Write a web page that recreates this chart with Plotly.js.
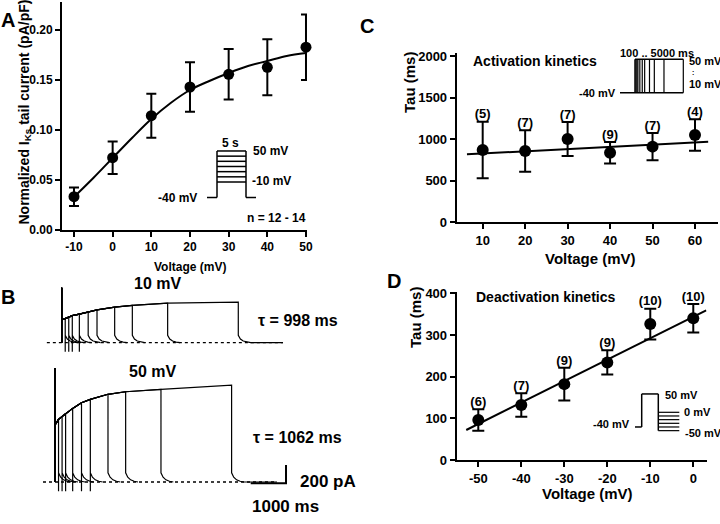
<!DOCTYPE html>
<html>
<head>
<meta charset="utf-8">
<script src="https://cdn.plot.ly/plotly-3.0.1.min.js"></script>
<style>body{margin:0;background:#fff}#plot{width:720px;height:524px}</style>
</head>
<body>
<div id="plot"></div>
<script>
// Panel A: normalized IKs tail current vs step voltage
var voltA = [-10, 0, 10, 20, 30, 40, 50];
var currA = [0.0333, 0.0723, 0.1143, 0.143, 0.1557, 0.1627, 0.1828];
var errA = [0.0092, 0.0163, 0.022, 0.0247, 0.0253, 0.028, 0.0328];
var fitVoltA = [-10, -5, 0, 5, 10, 15, 20, 25, 30, 35, 40, 45, 50];
var fitCurrA = [0.033, 0.052, 0.072, 0.092, 0.111, 0.127, 0.140, 0.149, 0.157, 0.164, 0.169, 0.174, 0.177];
var stepsA = [-10, 0, 10, 20, 30, 40, 50];
var holdA = -40;

// Panel B: current traces, step durations in ms, currents in pA
var pulseDur = [100, 200, 300, 500, 750, 1000, 1500, 2000, 3000, 5000];
var ik10 = [263, 280, 295, 312, 334, 358, 388, 407, 432, 444];
var ik50 = [685, 714, 751, 805, 867, 904, 959, 987, 1013, 1060];
var onset10 = 251, onset50 = 623;
var spike10 = 601, spike50 = 1246;
var dip10 = [-100, -100, -100, -100, null, null, null, null, null, null];
var dip50 = [-100, -100, -100, -100, -100, -100, null, null, null, null];
var tailT = [0, 60, 140, 240, 350];
var tail10 = [80, 40, 18, 6, 0];
var tail50 = [100, 52, 24, 8, 0];
var span10 = [-420, 6266];
var span50 = [-340, 6285];
var scaleMs = 1000, scalePa = 200;

// Panel C: activation time constants
var voltC = [10, 20, 30, 40, 50, 60];
var tauC = [870, 858, 1002, 837, 910, 1050];
var errC = [340, 250, 205, 130, 165, 190];
var nC = [5, 7, 7, 9, 7, 4];
var fitVoltC = [6.3, 63.1];
var fitTauC = [818, 970];

// Panel D: deactivation time constants
var voltD = [-50, -40, -30, -20, -10, 0];
var tauD = [96, 132, 182, 234, 326, 340];
var errD = [26, 28, 39, 29, 37, 34];
var nD = [6, 7, 9, 9, 10, 10];
var fitVoltD = [-52.8, 3];
var fitTauD = [72, 359];
var stepsD = [0, -10, -20, -30, -40, -50];

var FONT = 'Liberation Sans, Arial, sans-serif';
var NARROW = 'Liberation Sans Narrow, Liberation Sans, Arial, sans-serif';

function px(x) { return x / 720; }
function py(y) { return 1 - y / 524; }

function txt(s, x, y, size, anchor, angle, fam) {
    return {
        text: '<b>' + s + '</b>', xref: 'paper', yref: 'paper', x: px(x), y: py(y),
        xanchor: anchor || 'center', yanchor: 'middle', showarrow: false,
        textangle: angle || 0, font: {family: fam || FONT, size: size, color: 'black'}
    };
}

function seg(x0, y0, x1, y1, w) {
    return {type: 'line', xref: 'paper', yref: 'paper', x0: px(x0), y0: py(y0), x1: px(x1), y1: py(y1),
        line: {color: 'black', width: w || 1.5}};
}

function ax(extra) {
    var base = {
        showline: true, linecolor: 'black', linewidth: 2, ticks: 'outside', ticklen: 5,
        tickwidth: 2, tickcolor: 'black', showgrid: false, zeroline: false, fixedrange: true,
        tickfont: {family: FONT, size: 13, color: 'black', weight: 'bold'}
    };
    return Object.assign(base, extra);
}

function points(x, y, err, xa, ya, size, cap) {
    return {
        x: x, y: y, xaxis: xa, yaxis: ya, mode: 'markers', type: 'scatter', cliponaxis: false,
        marker: {color: 'black', size: size},
        error_y: {type: 'data', array: err, visible: true, color: 'black', thickness: 2, width: cap},
        hoverinfo: 'skip'
    };
}

function fitLine(x, y, xa, ya, shape) {
    return {x: x, y: y, xaxis: xa, yaxis: ya, mode: 'lines', type: 'scatter', cliponaxis: false,
        line: {color: 'black', width: 2, shape: shape || 'linear'}, hoverinfo: 'skip'};
}

function nLabels(x, y, err, n, xa, ya) {
    return {
        x: x, y: y.map(function (v, i) { return v + err[i]; }), xaxis: xa, yaxis: ya,
        mode: 'text', type: 'scatter', text: n.map(function (k) { return '<b>(' + k + ')</b>'; }),
        textposition: 'top center', textfont: {family: FONT, size: 13, color: 'black'},
        cliponaxis: false, hoverinfo: 'skip'
    };
}

function pulseTraces(ik, onset, spike, dip, tail, span, xa, ya) {
    var out = [];
    out.push({x: span, y: [0, 0], xaxis: xa, yaxis: ya, mode: 'lines',
        line: {color: 'black', width: 1.3, dash: 'dot'}, hoverinfo: 'skip'});
    for (var k = 0; k < pulseDur.length; k++) {
        var d = pulseDur[k];
        var xs = [0, 0, 0], ys = [0, spike, onset];
        for (var j = 0; j <= k; j++) { xs.push(pulseDur[j]); ys.push(ik[j]); }
        if (dip[k] !== null) { xs.push(d); ys.push(dip[k]); }
        for (var t = 0; t < tailT.length; t++) { xs.push(d + tailT[t]); ys.push(tail[t]); }
        if (k === pulseDur.length - 1) { xs.push(span[1]); ys.push(0); }
        out.push({x: xs, y: ys, xaxis: xa, yaxis: ya, mode: 'lines',
            line: {color: 'black', width: 1.2}, hoverinfo: 'skip'});
    }
    return out;
}

var data = [
    fitLine(fitVoltA, fitCurrA, 'x', 'y', 'spline'),
    points(voltA, currA, errA, 'x', 'y', 11, 5),
    fitLine(fitVoltC, fitTauC, 'x2', 'y2'),
    points(voltC, tauC, errC, 'x2', 'y2', 12, 6),
    nLabels(voltC, tauC, errC, nC, 'x2', 'y2'),
    fitLine(fitVoltD, fitTauD, 'x5', 'y5'),
    points(voltD, tauD, errD, 'x5', 'y5', 12, 6),
    nLabels(voltD, tauD, errD, nD, 'x5', 'y5')
];
data = data.concat(pulseTraces(ik10, onset10, spike10, dip10, tail10, span10, 'x3', 'y3'));
data = data.concat(pulseTraces(ik50, onset50, spike50, dip50, tail50, span50, 'x4', 'y4'));
// scale bar
data.push({x: [6540 - scaleMs, 6540, 6540], y: [-14, -14, -14 + scalePa], xaxis: 'x4', yaxis: 'y4',
    mode: 'lines', line: {color: 'black', width: 2}, hoverinfo: 'skip'});

// stimulation protocol insets
var shapes = [];
function vA(v) { return 182 - (v + 10) * 0.517; }
stepsA.forEach(function (v) { shapes.push(seg(217, vA(v), 246, vA(v))); });
shapes.push(seg(207, vA(holdA), 217, vA(holdA)));
shapes.push(seg(217, vA(holdA), 217, vA(50)));
shapes.push(seg(246, vA(holdA), 246, vA(50)));
shapes.push(seg(246, vA(holdA), 256, vA(holdA)));

shapes.push(seg(620, 92.7, 683.3, 92.7));
shapes.push(seg(635, 59.3, 683.3, 59.3));
shapes.push(seg(635, 59.3, 635, 92.7));
pulseDur.forEach(function (d) {
    var x = 635 + d * 0.00966;
    shapes.push(seg(x, 59.3, x, 92.7, 1.2));
});

function vD(v) { return 412.3 - v * 0.367; }
shapes.push(seg(635, vD(-40), 641.7, vD(-40)));
shapes.push(seg(641.7, vD(-40), 641.7, vD(50)));
shapes.push(seg(641.7, vD(50), 658.3, vD(50)));
shapes.push(seg(658.3, vD(50), 658.3, vD(-50)));
stepsD.forEach(function (v) { shapes.push(seg(658.3, vD(v), 679.3, vD(v), 1.2)); });

var annotations = [
    txt('A', 8, 20, 20), txt('B', 8, 297, 20), txt('C', 367, 26, 20), txt('D', 394, 281, 20),
    txt('Normalized I<sub>Ks</sub> tail current (pA/pF)', 24.5, 112, 14, 'center', -90),
    txt('Voltage (mV)', 190, 267, 12, 'center', 0, NARROW),
    txt('5 s', 230.5, 143, 12, 'center', 0, NARROW),
    txt('50 mV', 250.5, 151, 12, 'left', 0, NARROW),
    txt('-10 mV', 250, 181, 12, 'left', 0, NARROW),
    txt('-40 mV', 199, 197.7, 12, 'right', 0, NARROW),
    txt('n = 12 - 14', 308, 218.3, 12, 'right', 0, NARROW),
    txt('10 mV', 157, 283.3, 16), txt('50 mV', 152.5, 371.7, 16),
    txt('\u03c4 = 998 ms', 298, 320, 16), txt('\u03c4 = 1062 ms', 297, 437.7, 16),
    txt('200 pA', 298, 481.7, 17, 'left'), txt('1000 ms', 285.5, 506.7, 17),
    txt('Activation kinetics', 471, 60.7, 14, 'left'),
    txt('100 .. 5000 ms', 618, 53, 11, 'left'),
    txt('50 mV', 687, 61.5, 11, 'left'), txt(':', 690, 72.5, 7, 'left'), txt('10 mV', 687, 83.5, 11, 'left'),
    txt('-40 mV', 618, 92.7, 11, 'right'),
    txt('Tau (ms)', 410, 83, 15, 'center', -90),
    txt('Voltage (mV)', 590, 258, 15),
    txt('Deactivation kinetics', 474, 297.3, 14, 'left'),
    txt('50 mV', 663, 395, 11, 'left'), txt('0 mV', 681.7, 412.3, 11, 'left'),
    txt('-50 mV', 683, 433.3, 11, 'left'), txt('-40 mV', 631.7, 424.3, 11, 'right'),
    txt('Tau (ms)', 415, 317, 15, 'center', -90),
    txt('Voltage (mV)', 587, 493, 15)
];

var small = {family: NARROW, size: 12, color: 'black', weight: 'bold'};
var layout = {
    width: 720, height: 524, margin: {l: 0, r: 0, t: 0, b: 0},
    paper_bgcolor: 'white', plot_bgcolor: 'rgba(0,0,0,0)', showlegend: false,
    xaxis: ax({domain: [px(62), px(307)], range: [-13.1, 50.26], anchor: 'y',
        tickvals: voltA, ticktext: voltA.map(String), tickfont: small}),
    yaxis: ax({domain: [py(230), py(2)], range: [0, 0.228], anchor: 'x',
        tick0: 0, dtick: 0.05, tickformat: '.2f', tickfont: small}),
    xaxis2: ax({domain: [px(456.7), px(718)], range: [3.88, 65.42], anchor: 'y2',
        tickvals: voltC, ticktext: voltC.map(String)}),
    yaxis2: ax({domain: [py(222.3), py(53)], range: [0, 2036], anchor: 'x2', tick0: 0, dtick: 500}),
    xaxis3: {domain: [px(40), px(290)], range: [-614, 6464], anchor: 'y3', visible: false, fixedrange: true},
    yaxis3: {domain: [py(356), py(282)], range: [-146, 663], anchor: 'x3', visible: false, fixedrange: true},
    xaxis4: {domain: [px(40), px(290)], range: [-425, 6653], anchor: 'y4', visible: false, fixedrange: true},
    yaxis4: {domain: [py(495), py(362)], range: [-142, 1312], anchor: 'x4', visible: false, fixedrange: true},
    xaxis5: ax({domain: [px(456.7), px(706.7)], range: [-55.02, 3.12], anchor: 'y5',
        tickvals: voltD, ticktext: voltD.map(String)}),
    yaxis5: ax({domain: [py(460), py(292)], range: [0, 403], anchor: 'x5', tick0: 0, dtick: 100}),
    shapes: shapes,
    annotations: annotations
};

Plotly.newPlot('plot', data, layout, {staticPlot: true});
</script>
</body>
</html>
